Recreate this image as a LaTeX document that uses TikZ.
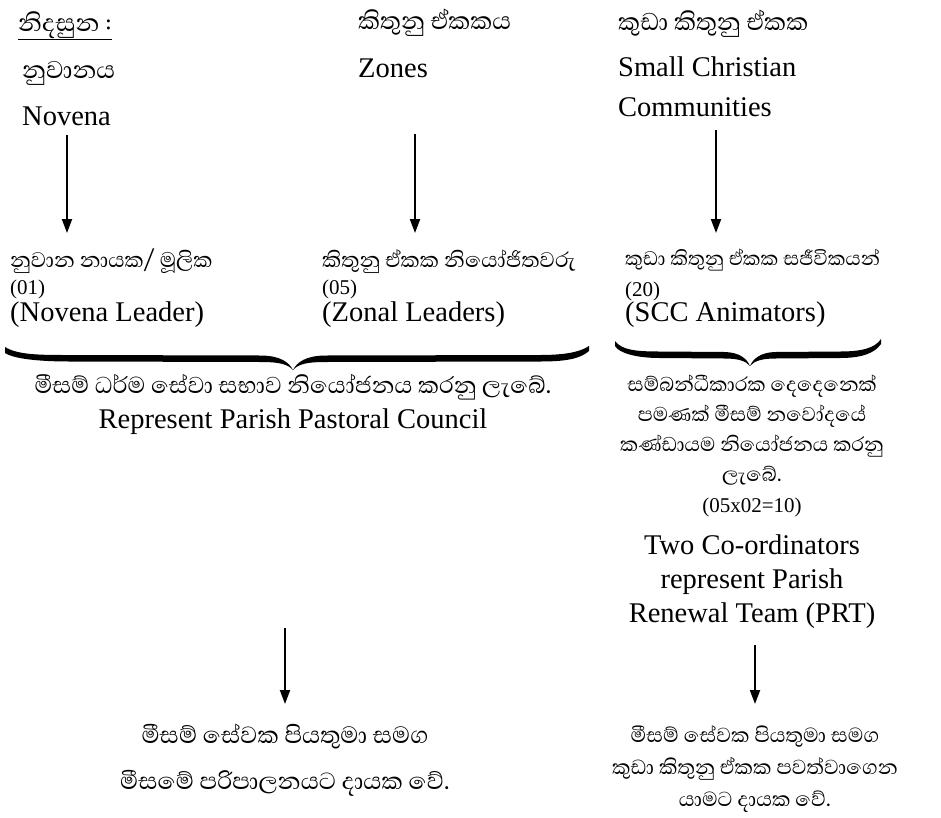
\documentclass[tikz,border=0pt]{standalone}
\usepackage{fontspec}
\setmainfont{Liberation Serif}
\newfontfamily\sifont[Script=Sinhala]{Abhaya Libre}
\usetikzlibrary{arrows.meta}
\begin{document}
\begin{tikzpicture}[x=1pt,y=-1pt,
  lat/.style={inner sep=0pt,font=\fontsize{28.5}{32}\selectfont},
  sin/.style={inner sep=0pt,font=\sifont\fontsize{#1}{#1}\selectfont},
  num/.style={inner sep=0pt,font=\fontsize{21}{24}\selectfont},
  arr/.style={line width=2pt,-{Triangle[length=14pt,width=10pt]}},
  bracefill/.style={fill=black,draw=none}]
\useasboundingbox (0,0) rectangle (941,817);

% top row
\node[sin=31,anchor=base west] (nid) at (18,31) {\underline{නිදසුන :}};
\node[sin=31,anchor=base west] (nuv) at (22,78) {නුවානය};
\node[lat,anchor=base west] (nov) at (22,125) {Novena};
\node[sin=31,anchor=base west] (kit) at (358,29) {කිතුනු ඒකකය};
\node[lat,anchor=base west] (zon) at (358,77) {Zones};
\node[sin=31,anchor=base west] (kud) at (618,30) {කුඩා කිතුනු ඒකක};
\node[lat,anchor=base west] (sma) at (618,76) {Small Christian};
\node[lat,anchor=base west] (com) at (618,116) {Communities};

% second row
\node[sin=27,anchor=base west] (l1) at (10,267) {නුවාන නායක/ මූලික};
\node[num,anchor=base west] (l2) at (10,294) {(01)};
\node[lat,anchor=base west] (l3) at (10,321) {(Novena Leader)};
\node[sin=27,anchor=base west] (m1) at (322,267) {කිතුනු ඒකක නියෝජිතවරු};
\node[num,anchor=base west] (m2) at (322,294) {(05)};
\node[lat,anchor=base west] (m3) at (322,321) {(Zonal Leaders)};
\node[sin=25,anchor=base west] (r1) at (625,265) {කුඩා කිතුනු ඒකක සජීවිකයන්};
\node[num,anchor=base west] (r2) at (625,296) {(20)};
\node[lat,anchor=base west] (r3) at (625,321) {(SCC Animators)};

% arrows top
\coordinate (a1s) at (67,135);
\coordinate (a1e) at (67,233);
\coordinate (a2s) at (415,134);
\coordinate (a2e) at (415,233);
\coordinate (a3s) at (716,130);
\coordinate (a3e) at (716,233);
\draw[arr] (a1s) -- (a1e);
\draw[arr] (a2s) -- (a2e);
\draw[arr] (a3s) -- (a3e);

% brace 1
\path[bracefill] (5,347) .. controls (18,355) and (40,355) .. (70,355) -- (262,355.5)
  .. controls (280,356) and (289,362) .. (293,370)
  .. controls (297,362) and (306,356) .. (324,355.5) -- (540,355)
  .. controls (565,355) and (580,352) .. (589,346) -- (589,351)
  .. controls (580,359) and (565,361.5) .. (540,361.5) -- (324,362)
  .. controls (308,362) and (298,364) .. (293,370)
  .. controls (288,364) and (278,362) .. (262,362) -- (70,361.5)
  .. controls (40,361.5) and (14,359) .. (5,353) -- cycle;
% brace 2
\path[bracefill] (615,341) .. controls (622,350) and (635,351.5) .. (660,351.5) -- (725,352)
  .. controls (740,352.5) and (747,359) .. (750,366)
  .. controls (753,359) and (760,352.5) .. (775,352) -- (840,351.5)
  .. controls (862,351.5) and (875,348) .. (881,339) -- (881,344)
  .. controls (874,354) and (860,358) .. (840,358) -- (775,358.5)
  .. controls (762,358.5) and (754,361) .. (750,366)
  .. controls (746,361) and (738,358.5) .. (725,358.5) -- (660,358)
  .. controls (636,358) and (619,353) .. (615,346) -- cycle;

% middle texts
\node[sin=29.5,anchor=base] (pc1) at (293,393) {මීසම් ධර්ම සේවා සභාව නියෝජනය කරනු ලැබේ.};
\node[lat,anchor=base] (pc2) at (293,428) {Represent Parish Pastoral Council};

\node[sin=25.5,anchor=base] (c1) at (752,391) {සම්බන්ධීකාරක දෙදෙනෙක්};
\node[sin=25.5,anchor=base] (c2) at (752,421) {පමණක් මීසම් නවෝදයේ};
\node[sin=25.5,anchor=base] (c3) at (752,451) {කණ්ඩායම නියෝජනය කරනු};
\node[sin=25.5,anchor=base] (c4) at (752,481) {ලැබේ.};
\node[num,anchor=base] (c5) at (752,512) {(05x02=10)};
\node[lat,anchor=base] (c6) at (752,554) {Two Co-ordinators};
\node[lat,anchor=base] (c7) at (752,588) {represent Parish};
\node[lat,anchor=base] (c8) at (752,622) {Renewal Team (PRT)};

% bottom arrows
\coordinate (a4s) at (285,628);
\coordinate (a4e) at (285,704);
\coordinate (a5s) at (755,645);
\coordinate (a5e) at (755,704);
\draw[arr] (a4s) -- (a4e);
\draw[arr] (a5s) -- (a5e);

% bottom texts
\node[sin=30,anchor=base] (b1) at (285,743) {මීසම් සේවක පියතුමා සමග};
\node[sin=30,anchor=base] (b2) at (285,789) {මීසමේ පරිපාලනයට දායක වේ.};
\node[sin=26,anchor=base] (d1) at (755,742) {මීසම් සේවක පියතුමා සමග};
\node[sin=26,anchor=base] (d2) at (755,774) {කුඩා කිතුනු ඒකක පවත්වාගෙන};
\node[sin=26,anchor=base] (d3) at (755,806) {යාමට දායක වේ.};
\end{tikzpicture}
\end{document}
